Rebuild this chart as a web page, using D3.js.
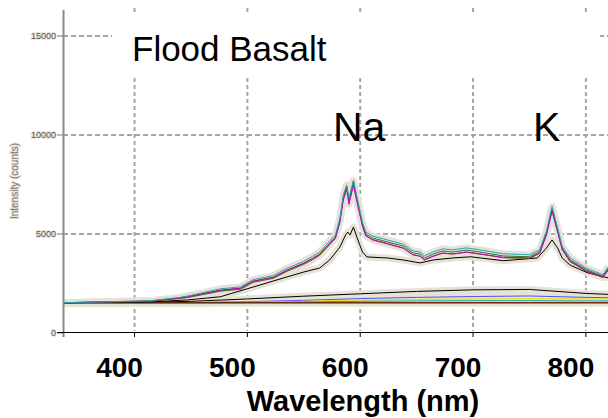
<!DOCTYPE html>
<html><head><meta charset="utf-8">
<script src="https://cdn.jsdelivr.net/npm/d3@7"></script>
<style>
html,body{margin:0;padding:0;background:#fff;}
svg{display:block;font-family:"Liberation Sans",Arial,sans-serif;}
</style></head>
<body><svg id="c" width="608" height="418"></svg>
<script>
// ---- data ----
const xTicks = [400, 500, 600, 700, 800];
const yTicks = [0, 5000, 10000, 15000];
const xTickLabels = ["400", "500", "600", "700", "800"];
const yTickLabels = ["0", "5000", "10000", "15000"];

const wlUpper = [337,414,440,447,476,494,505,523,535,550,558,564,573,578,582,585,588,590,594,597,602,605,611,624,638,647,653,657,665,673,682,694,706,727,750,759,765,770,775,779,786,801,815,820];
const tealUpper    = [1530,1630,1800,1870,2230,2330,2690,2900,3260,3620,3880,4080,4650,4950,5800,6950,7480,6800,7720,6900,5600,5100,4900,4700,4490,4140,4090,3900,4100,4250,4200,4300,4200,4000,3950,4200,5150,6400,5300,4390,3790,3260,2950,3350];
const magentaUpper = [1530,1620,1770,1830,2170,2270,2620,2820,3170,3530,3770,3970,4520,4800,5600,6700,7250,6500,7450,6650,5400,4900,4720,4520,4290,3940,3880,3690,3880,4040,3990,4090,3990,3820,3800,4030,4950,6150,5100,4230,3640,3120,2840,3230];
const oliveUpper   = [1530,1600,1740,1790,2110,2210,2560,2760,3110,3470,3710,3920,4470,4770,5650,6820,7350,6650,7620,6750,5430,4920,4700,4500,4290,3950,3890,3700,3890,4030,3990,4080,3990,3800,3760,4020,4970,6200,5120,4200,3600,3100,2800,3180];
const greenUpper   = [1530,1610,1760,1820,2150,2250,2610,2810,3160,3520,3770,3980,4540,4840,5700,6860,7420,6720,7680,6820,5500,5000,4800,4600,4390,4040,3990,3790,3990,4140,4090,4190,4090,3890,3850,4110,5050,6310,5200,4290,3690,3180,2880,3280];

const wlLower = [337,414,447,476,505,535,550,564,573,582,587,589,591,594,597,602,606,624,638,653,665,682,698,727,757,765,770,775,779,786,801,820];
const blackLower = [1530,1570,1670,1830,2320,2830,3080,3280,3690,4340,4950,5100,4950,5350,4850,4090,3840,3790,3690,3540,3690,3790,3850,3650,3790,4290,4700,4290,3790,3430,3050,2780];

const wlBase = [337,400,450,500,550,600,650,700,750,800,820];
const blackBase  = [1530,1540,1600,1720,1860,1980,2100,2180,2200,2000,1950];
const blueBase   = [1530,1530,1540,1580,1650,1740,1800,1840,1870,1800,1780];
const yellowBase = [1530,1530,1530,1550,1600,1660,1700,1720,1730,1720,1720];
const tealBase   = [1530,1530,1530,1540,1570,1600,1620,1630,1630,1620,1620];
const redBase    = [1520,1520,1520,1520,1520,1520,1520,1520,1520,1520,1520];
const dgreenBase = [1530,1530,1530,1530,1530,1530,1530,1530,1530,1530,1530];

const title = "Flood Basalt";
const xTitle = "Wavelength (nm)";
const yTitle = "Intensity (counts)";

// ---- chart ----
const svg = d3.select("#c");
const x = d3.scaleLinear().domain([336.6, 819.6]).range([63, 608]);
const y = d3.scaleLinear().domain([0, 15000]).range([333, 36]);

const gridColor = "#a4a4a4";
svg.append("g").selectAll("line").data(yTicks.filter(d => d > 0)).join("line")
  .attr("x1", 63).attr("x2", 608)
  .attr("y1", d => y(d)).attr("y2", d => y(d))
  .attr("stroke", gridColor).attr("stroke-width", 2).attr("stroke-dasharray", "5,3");
svg.append("g").selectAll("line").data(xTicks).join("line")
  .attr("x1", d => x(d)).attr("x2", d => x(d))
  .attr("y1", 8).attr("y2", 331)
  .attr("stroke", gridColor).attr("stroke-width", 2).attr("stroke-dasharray", "4,3");

svg.append("rect").attr("x", 112).attr("y", 15).attr("width", 488).attr("height", 63).attr("fill", "#fff");

const series = [
  {wl: wlBase, v: blackBase, c: "#000000"},
  {wl: wlBase, v: blueBase, c: "#5050ff"},
  {wl: wlBase, v: yellowBase, c: "#e8e000"},
  {wl: wlBase, v: tealBase, c: "#20a0a0"},
  {wl: wlBase, v: dgreenBase, c: "#006000"},
  {wl: wlBase, v: redBase, c: "#a00000"},
  {wl: wlLower, v: blackLower, c: "#000000"},
  {wl: wlUpper, v: oliveUpper, c: "#6b5a00"},
  {wl: wlUpper, v: greenUpper, c: "#307030"},
  {wl: wlUpper, v: magentaUpper, c: "#c000c0"},
  {wl: wlUpper, v: tealUpper, c: "#20a8a8"}
];
const line = d3.line().x(d => x(d[0])).y(d => y(d[1])).curve(d3.curveLinear);
const gHalo = svg.append("g");
const gLines = svg.append("g");
series.forEach(s => {
  const pts = s.wl.map((w, i) => [w, s.v[i]]);
  gHalo.append("path").attr("d", line(pts)).attr("fill", "none")
    .attr("stroke", "#e6e2d8").attr("stroke-width", 7).attr("stroke-linejoin", "round");
});
series.forEach(s => {
  const pts = s.wl.map((w, i) => [w, s.v[i]]);
  gLines.append("path").attr("d", line(pts)).attr("fill", "none")
    .attr("stroke", s.c).attr("stroke-width", 1).attr("stroke-linejoin", "round");
});

svg.append("line").attr("x1", 63.5).attr("x2", 63.5).attr("y1", 10).attr("y2", 337)
  .attr("stroke", "#8a8a8a").attr("stroke-width", 2);
svg.append("g").selectAll("line").data(yTicks).join("line")
  .attr("x1", 57).attr("x2", 63).attr("y1", d => y(d)).attr("y2", d => y(d))
  .attr("stroke", "#777").attr("stroke-width", 1);
svg.append("g").selectAll("text").data(yTicks).join("text")
  .attr("x", 56).attr("y", d => y(d) + 3)
  .attr("text-anchor", "end").attr("font-size", 9).attr("fill", "#555")
  .attr("stroke", "#ebe7dc").attr("stroke-width", 2).attr("paint-order", "stroke")
  .text((d, i) => yTickLabels[i]);
svg.append("text").attr("transform", "translate(18,181) rotate(-90)")
  .attr("text-anchor", "middle").attr("font-size", 10).attr("fill", "#777")
  .attr("stroke", "#ebe7dc").attr("stroke-width", 2).attr("paint-order", "stroke")
  .text(yTitle);

svg.append("line").attr("x1", 57).attr("x2", 608).attr("y1", 332.5).attr("y2", 332.5)
  .attr("stroke", "#000").attr("stroke-width", 1);
svg.append("g").selectAll("line").data(xTicks).join("line")
  .attr("x1", d => x(d)).attr("x2", d => x(d)).attr("y1", 332).attr("y2", 337)
  .attr("stroke", "#000").attr("stroke-width", 1);
svg.append("g").selectAll("text").data(xTicks).join("text")
  .attr("x", d => x(d) - 15).attr("y", 377)
  .attr("text-anchor", "middle").attr("font-size", 28).attr("font-weight", "bold").attr("fill", "#000")
  .text((d, i) => xTickLabels[i]);
svg.append("text").attr("x", 363).attr("y", 411).attr("text-anchor", "middle")
  .attr("font-size", 29).attr("font-weight", "bold").attr("fill", "#000").text(xTitle);

svg.append("text").attr("x", 132).attr("y", 61).attr("font-size", 35).attr("fill", "#000").text(title);
svg.append("text").attr("x", 333).attr("y", 141).attr("font-size", 41).attr("fill", "#000").text("Na");
svg.append("text").attr("x", 533).attr("y", 141).attr("font-size", 41).attr("fill", "#000").text("K");
</script></body></html>
